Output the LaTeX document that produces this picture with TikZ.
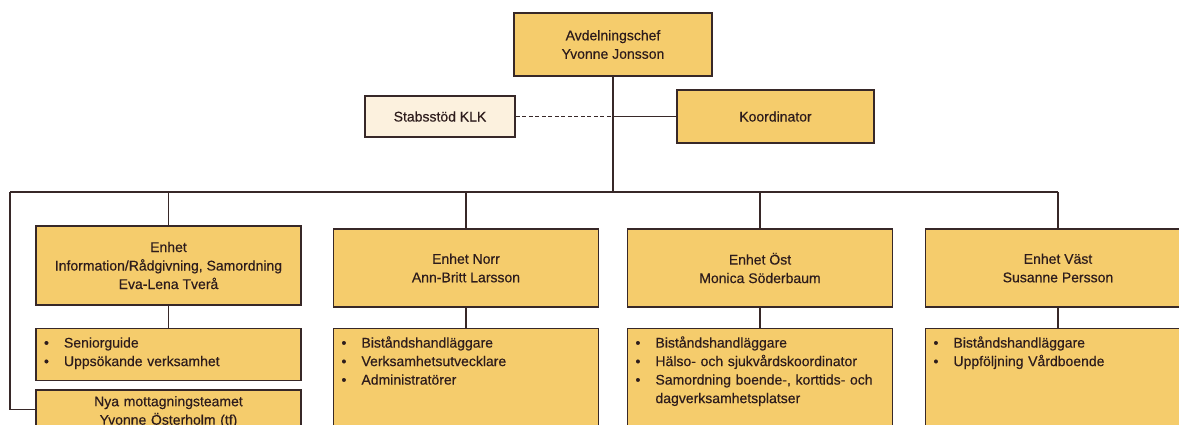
\documentclass[tikz,border=0pt]{standalone}
\usepackage{fontspec}
\setmainfont[FakeBold=0.4]{Liberation Sans}
\usetikzlibrary{positioning}
\definecolor{orggold}{RGB}{245,204,108}
\definecolor{orgcream}{RGB}{252,241,222}
\definecolor{orgline}{RGB}{55,40,40}
\definecolor{orgtext}{RGB}{45,28,28}
\newcommand{\orgitem}[1]{\hangindent=20pt\hangafter=1\makebox[20pt][l]{\textbullet}#1\par}

\begin{document}
\begin{tikzpicture}[x=1pt, y=-1pt,
      unit/.style={draw=orgline, fill=orggold, line width=1.6pt, minimum width=265pt, minimum height=78pt, align=center, inner sep=0pt, font=\fontsize{14}{18.5}\selectfont, text=orgtext},
      staff/.style={unit, fill=orgcream, minimum width=150pt, minimum height=41pt},
      tasks/.style={draw=orgline, fill=orggold, line width=1.6pt, text width=249pt, inner xsep=8pt, inner ysep=9pt, align=left, text height=10pt, text depth=100pt, font=\fontsize{14}{18.5}\selectfont, text=orgtext, node distance=20pt},
      link/.style={draw=orgline, line width=1.6pt}
    ]
      \useasboundingbox (0,0) rectangle (1179,425);
      \clip (0,0) rectangle (1179,425);

      \node[unit, minimum width=198pt, minimum height=63pt] (chef) at (613, 44.5) {Avdelningschef\\Yvonne Jonsson};
      \node[staff] (stab) at (440, 116.5) {Stabsstöd KLK};
      \node[unit, minimum width=197pt, minimum height=53pt] (koord) at (775.5, 116.5) {Koordinator};

      \node[unit, minimum height=79pt] (info) at (168.5, 265.5) {Enhet\\Information/Rådgivning, Samordning\\Eva-Lena Tverå};
      \node[unit] (norr) at (466, 268) {Enhet Norr\\Ann-Britt Larsson};
      \node[unit] (ost) at (760, 268) {Enhet Öst\\Monica Söderbaum};
      \node[unit] (vast) at (1058, 268) {Enhet Väst\\Susanne Persson};

      \node[tasks, below=22pt of info, text depth=24pt] (info-list) {%
        \orgitem{Seniorguide}
        \orgitem{Uppsökande verksamhet}};
      \node[tasks, below=8pt of info-list, align=center, inner ysep=6pt] (nya) {%
        Nya mottagningsteamet\\Yvonne Österholm (tf)};
      \node[tasks, below=20pt of norr] (norr-list) {%
        \orgitem{Biståndshandläggare}
        \orgitem{Verksamhetsutvecklare}
        \orgitem{Administratörer}};
      \node[tasks, below=20pt of ost] (ost-list) {%
        \orgitem{Biståndshandläggare}
        \orgitem{Hälso- och sjukvårdskoordinator}
        \orgitem{Samordning boende-, korttids- och\newline dagverksamhetsplatser}};
      \node[tasks, below=20pt of vast] (vast-list) {%
        \orgitem{Biståndshandläggare}
        \orgitem{Uppföljning Vårdboende}};

      \coordinate (busL) at (10, 192);
      \coordinate (nya-in) at ([yshift=-20pt]nya.north west);

      \draw[link] (chef) -- (chef |- busL);
      \draw[link, dash pattern=on 4pt off 2.5pt] (stab) -- (stab -| chef);
      \draw[link] (stab -| chef) -- (koord);
      \draw[link] (busL) -- (vast.north |- busL);
      \foreach \u in {info,norr,ost,vast} {
        \draw[link] (\u.north |- busL) -- (\u);
        \draw[link] (\u) -- (\u-list);
      }
      \draw[link] (busL) -- (busL |- nya-in) -- (nya-in);
    \end{tikzpicture}
\end{document}
